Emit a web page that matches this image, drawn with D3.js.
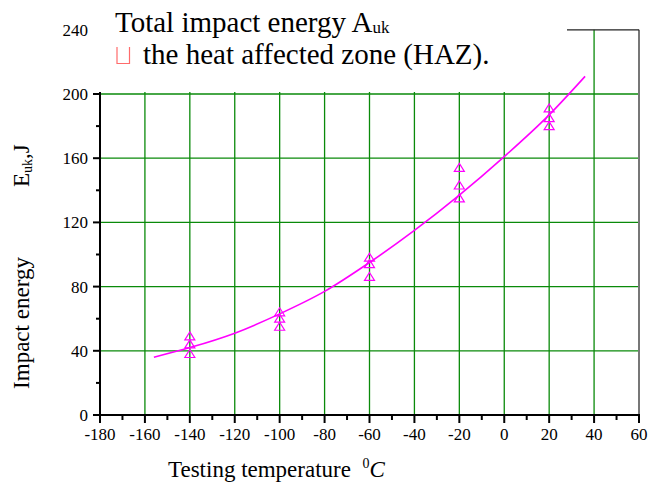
<!DOCTYPE html>
<html>
<head>
<meta charset="utf-8">
<script src="https://cdn.jsdelivr.net/npm/d3@7"></script>
<style>
  body { margin: 0; background: #fff; }
</style>
</head>
<body>
<div id="chart"></div>
<script>
// measured points, three specimens per temperature
const temps = [-140, -100, -60, -20, 20]
const specimenA = [49, 64, 98, 154, 191]
const specimenB = [44, 60, 94, 143, 185]
const specimenC = [38, 55, 86, 135, 180]

// fitted curve
const curveT = [-156, -140, -120, -100, -80, -60, -40, -20, 0, 20, 36]
const curveE = [36, 42, 51, 63, 77, 95, 115, 137, 161, 187, 211]

const xTicks = d3.range(-180, 61, 20)
const xMinor = d3.range(-170, 60, 20)
const yTicks = [0, 40, 80, 120, 160, 200, 240]
const yMinor = [20, 60, 100, 140, 180]

const width = 649
const height = 482
const green = '#0a8a0a'
const magenta = '#ff00ff'
const serif = "'Liberation Serif'"

const svg = d3.select('#chart').append('svg')
  .attr('width', width)
  .attr('height', height)

const x = d3.scaleLinear().domain([-180, 60]).range([100, 639])
const y = d3.scaleLinear().domain([0, 240]).range([415, 29.8])

// grid
const grid = svg.append('g')
grid.selectAll('line.h').data(yTicks.filter(d => d > 0 && d < 240)).enter()
  .append('line')
  .attr('x1', x(-180)).attr('x2', x(60))
  .attr('y1', d => y(d)).attr('y2', d => y(d))
  .style('stroke', green).style('stroke-width', 1.3)
grid.selectAll('line.v').data(xTicks.filter(d => d > -180 && d < 60)).enter()
  .append('line')
  .attr('x1', d => x(d)).attr('x2', d => x(d))
  .attr('y1', y(0)).attr('y2', y(240))
  .style('stroke', green).style('stroke-width', 1.3)

// frame (top and right)
svg.append('line')
  .attr('x1', x(60)).attr('x2', x(60)).attr('y1', y(240)).attr('y2', y(0))
  .style('stroke', '#777').style('stroke-width', 2)
svg.append('line')
  .attr('x1', 40).attr('x2', x(60)).attr('y1', y(240)).attr('y2', y(240))
  .style('stroke', '#222').style('stroke-width', 1.3)

// axes
svg.append('line')
  .attr('x1', x(-180)).attr('x2', x(-180)).attr('y1', y(0)).attr('y2', y(240))
  .style('stroke', '#000').style('stroke-width', 2)
svg.append('line')
  .attr('x1', x(-180) - 1).attr('x2', x(60) + 1).attr('y1', y(0)).attr('y2', y(0))
  .style('stroke', '#000').style('stroke-width', 2)

svg.append('g').selectAll('line').data(xTicks).enter().append('line')
  .attr('x1', d => x(d)).attr('x2', d => x(d))
  .attr('y1', y(0)).attr('y2', y(0) + 8)
  .style('stroke', '#000').style('stroke-width', 2)
svg.append('g').selectAll('line').data(xMinor).enter().append('line')
  .attr('x1', d => x(d)).attr('x2', d => x(d))
  .attr('y1', y(0)).attr('y2', y(0) + 5)
  .style('stroke', '#000').style('stroke-width', 2)
svg.append('g').selectAll('line').data(yTicks).enter().append('line')
  .attr('x1', x(-180) - 7).attr('x2', x(-180))
  .attr('y1', d => y(d)).attr('y2', d => y(d))
  .style('stroke', '#000').style('stroke-width', 2)
svg.append('g').selectAll('line').data(yMinor).enter().append('line')
  .attr('x1', x(-180) - 4).attr('x2', x(-180))
  .attr('y1', d => y(d)).attr('y2', d => y(d))
  .style('stroke', '#000').style('stroke-width', 2)

svg.append('g').selectAll('text').data(xTicks).enter().append('text')
  .attr('x', d => x(d))
  .attr('y', 440)
  .attr('text-anchor', 'middle')
  .style('font-family', serif)
  .style('font-size', '17px')
  .text(d => d)

// white title box covers the upper part of the plot
svg.append('rect')
  .attr('x', 0).attr('y', 0).attr('width', 567).attr('height', 92)
  .style('fill', '#fff')

svg.append('g').selectAll('text').data(yTicks).enter().append('text')
  .attr('x', 88)
  .attr('y', d => y(d) + 6)
  .attr('text-anchor', 'end')
  .style('font-family', serif)
  .style('font-size', '17px')
  .text(d => d)

// curve
const line = d3.line()
  .x(d => x(d[0]))
  .y(d => y(d[1]))
  .curve(d3.curveMonotoneX)
svg.append('path')
  .datum(curveT.map((t, i) => [t, curveE[i]]))
  .attr('d', line)
  .style('fill', 'none')
  .style('stroke', magenta)
  .style('stroke-width', 1.6)

// triangles
const tri = 'M0,-4.5 L5,3.5 L-5,3.5 Z'
const pts = []
;[specimenA, specimenB, specimenC].forEach(s => {
  s.forEach((v, i) => pts.push([temps[i], v]))
})
svg.append('g').selectAll('path').data(pts).enter().append('path')
  .attr('d', tri)
  .attr('transform', d => `translate(${x(d[0])},${y(d[1])})`)
  .style('fill', 'none')
  .style('stroke', magenta)
  .style('stroke-width', 1.2)

// title
const title = svg.append('text')
  .attr('x', 115).attr('y', 32)
  .style('font-family', serif)
  .style('font-size', '29px')
title.append('tspan').text('Total impact energy A')
title.append('tspan').attr('dy', 1).style('font-size', '17px').text('uk')

svg.append('path')
  .attr('d', 'M117,47 L117,63.5 L129.5,63.5 L129.5,47')
  .style('fill', 'none')
  .style('stroke', '#ff6b6b')
  .style('stroke-width', 1.2)
svg.append('text')
  .attr('x', 143).attr('y', 64)
  .style('font-family', serif)
  .style('font-size', '29px')
  .text('the heat affected zone (HAZ).')

// axis titles
svg.append('text')
  .attr('transform', 'translate(29,323) rotate(-90)')
  .attr('text-anchor', 'middle')
  .style('font-family', serif)
  .style('font-size', '23px')
  .text('Impact energy')
const eTitle = svg.append('text')
  .attr('transform', 'translate(29,187) rotate(-90)')
  .style('font-family', serif)
  .style('font-size', '23px')
eTitle.append('tspan').text('E')
eTitle.append('tspan').attr('dy', 3).style('font-size', '14px').text('uk')
eTitle.append('tspan').attr('dy', -3).text(',J')

const xTitle = svg.append('text')
  .attr('x', 168).attr('y', 477)
  .style('font-family', serif)
  .style('font-size', '23px')
  .style('white-space', 'pre')
xTitle.append('tspan').text('Testing temperature  ')
xTitle.append('tspan').attr('dy', -9).style('font-size', '14px').text('0')
xTitle.append('tspan').attr('dy', 9).style('font-style', 'italic').text('C')
</script>
</body>
</html>
